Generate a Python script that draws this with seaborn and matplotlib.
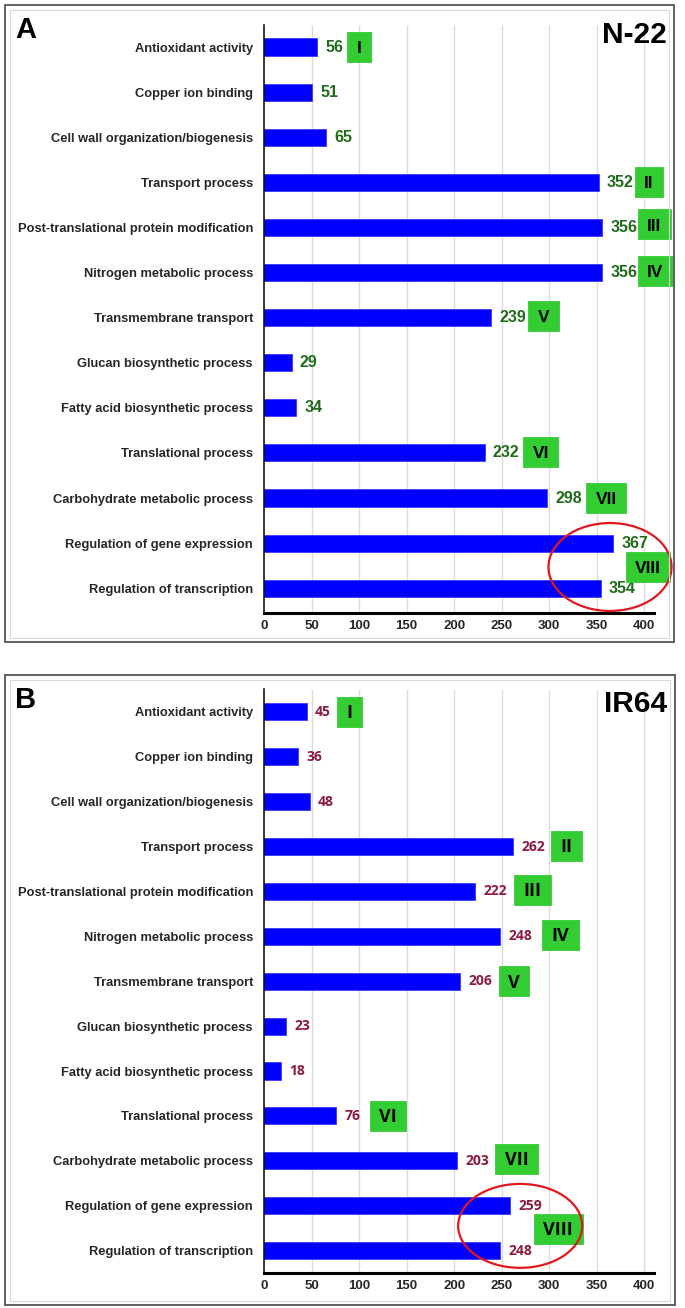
import matplotlib
matplotlib.use("Agg")
import matplotlib.pyplot as plt
import matplotlib.font_manager as fm
from matplotlib.patches import Ellipse, Rectangle
from matplotlib.transforms import offset_copy
import seaborn as sns
import pandas as pd

# ---------------- data ----------------
categories = [
    "Antioxidant activity",
    "Copper ion binding",
    "Cell wall organization/biogenesis",
    "Transport process",
    "Post-translational protein modification",
    "Nitrogen metabolic process",
    "Transmembrane transport",
    "Glucan biosynthetic process",
    "Fatty acid biosynthetic process",
    "Translational process",
    "Carbohydrate metabolic process",
    "Regulation of gene expression",
    "Regulation of transcription",
]
n22_counts = [56, 51, 65, 352, 356, 356, 239, 29, 34, 232, 298, 367, 354]
ir64_counts = [45, 36, 48, 262, 222, 248, 206, 23, 18, 76, 203, 259, 248]
x_ticks = [0, 50, 100, 150, 200, 250, 300, 350, 400]

roman_labels = ["I", "II", "III", "IV", "V", "VI", "VII", "VIII"]
# numeral box centres (x value, category row)
n22_roman_x = [100, 405, 410.5, 411.6, 293.7, 291, 360, 404]
n22_roman_y = [0, 2.99, 3.93, 4.97, 5.96, 8.97, 10.0, 11.53]
ir64_roman_x = [89.5, 318, 282, 311.6, 263, 130.5, 266, 309.5]
ir64_roman_y = [0, 2.98, 3.96, 4.96, 6.0, 9.0, 9.96, 11.51]

panel_letters = ["A", "B"]
panel_titles = ["N-22", "IR64"]

# --------------- style ----------------
sns.set_style("white")
names = {f.name for f in fm.fontManager.ttflist}
narrow = "Liberation Sans Narrow" if "Liberation Sans Narrow" in names else "Liberation Sans"
plt.rcParams["font.family"] = ["Liberation Sans", "DejaVu Sans"]

W, H = 685, 1308
fig = plt.figure(figsize=(W / 100, H / 100), dpi=100)
renderer = fig.canvas.get_renderer()


def fx(px):
    return px / W


def fy(py):
    return 1 - py / H


# panel borders
for (x0, y0, x1, y1) in [(5, 5, 674, 642), (5, 675, 675, 1305)]:
    fig.patches.append(Rectangle((fx(x0), fy(y1)), fx(x1 - x0), (y1 - y0) / H,
                                 transform=fig.transFigure, fill=False,
                                 edgecolor="#555555", linewidth=1.3, zorder=0))
    fig.patches.append(Rectangle((fx(x0 + 5), fy(y1 - 4)), fx(x1 - x0 - 10), (y1 - y0 - 9) / H,
                                 transform=fig.transFigure, fill=False,
                                 edgecolor="#d8d8d8", linewidth=0.8, zorder=0))

panels = [
    dict(counts=n22_counts, rx=n22_roman_x, ry=n22_roman_y, top=24.5, bottom=613,
         ylim=(12.55, -0.5), vcolor="#1f6b1a", vsize=11.5, vfam="Liberation Sans",
         rsize=12.5, rfam="Liberation Sans",
         letter_y=16, title_y=21, ell=(364, 11.53, 129.5, 1.95)),
    dict(counts=ir64_counts, rx=ir64_roman_x, ry=ir64_roman_y, top=689.5, bottom=1273,
         ylim=(12.5, -0.5), vcolor="#8e1a3c", vsize=10, vfam="Open Sans",
         rsize=13, rfam="Open Sans",
         letter_y=686, title_y=690, ell=(269.5, 11.45, 130.5, 1.87)),
]

for i, p in enumerate(panels):
    ax = fig.add_axes([fx(264), fy(p["bottom"]), fx(668 - 264), (p["bottom"] - p["top"]) / H])
    df = pd.DataFrame({"category": categories, "count": p["counts"]})
    sns.barplot(data=df, x="count", y="category", orient="h", color="#0000ff",
                saturation=1, width=0.38, edgecolor="#3a3aff", linewidth=0.6, ax=ax)
    ax.set_xlim(0, 425)
    ax.set_ylim(*p["ylim"])
    ax.set_xlabel("")
    ax.set_ylabel("")
    ax.set_xticks(x_ticks)
    ax.set_xticklabels([str(t) for t in x_ticks], fontfamily=narrow, fontweight="bold",
                       fontsize=9.5)
    ax.set_yticks(range(len(categories)))
    ax.set_yticklabels(categories, fontfamily=narrow, fontweight="bold", fontsize=9.3)
    ax.tick_params(axis="both", length=0)
    ax.tick_params(axis="y", pad=8)
    ax.tick_params(axis="x", pad=5)
    for t in x_ticks[1:]:
        ax.axvline(t, color="#dcdcdc", linewidth=1.0, zorder=0)
    ax.spines["top"].set_visible(False)
    ax.spines["right"].set_visible(False)
    ax.spines["left"].set_color("black")
    ax.spines["left"].set_linewidth(1.1)
    ax.spines["bottom"].set_color("black")
    ax.spines["bottom"].set_linewidth(2.2)
    ax.spines["bottom"].set_bounds(0, 410)
    ax.set_facecolor("none")

    # value labels
    for j, v in enumerate(p["counts"]):
        ax.annotate(str(v), (v, j), xytext=(6, 0), textcoords="offset points",
                    ha="left", va="center", fontsize=p["vsize"], fontweight="bold",
                    fontfamily=[p["vfam"], "DejaVu Sans"],
                    color=p["vcolor"], zorder=5)

    # roman numeral boxes
    ax_h_px = p["bottom"] - p["top"]
    row_px = ax_h_px / abs(p["ylim"][0] - p["ylim"][1])
    unit_px = 404 / 425
    shift = offset_copy(ax.transData, fig=fig, x=0, y=-0.36 * p["rsize"], units="points")
    for lab, x, y in zip(roman_labels, p["rx"], p["ry"]):
        t = ax.text(x, y, lab, ha="center", va="baseline", fontsize=p["rsize"],
                    fontweight="bold", fontfamily=[p["rfam"], "DejaVu Sans"],
                    color="black", zorder=6, transform=shift)
        w_px = t.get_window_extent(renderer).width
        bw = (w_px + 19) / unit_px
        bh = 30 / row_px
        ax.add_patch(Rectangle((x - bw / 2, y - bh / 2), bw, bh, facecolor="#33cc33",
                               edgecolor="#33cc33", linewidth=0.6, zorder=5.5,
                               clip_on=False))

    ex, ey, ew, eh = p["ell"]
    ax.add_patch(Ellipse((ex, ey), ew, eh, fill=False, edgecolor="#e0191e",
                         linewidth=1.6, zorder=7, clip_on=False))

    fig.text(fx(15), fy(p["letter_y"]), panel_letters[i], ha="left", va="top",
             fontsize=21, fontweight="bold", color="black")
    fig.text(fx(667), fy(p["title_y"]), panel_titles[i], ha="right", va="top",
             fontsize=21.5, fontweight="bold", color="black")

fig.savefig("out.png", dpi=100, facecolor="white")
